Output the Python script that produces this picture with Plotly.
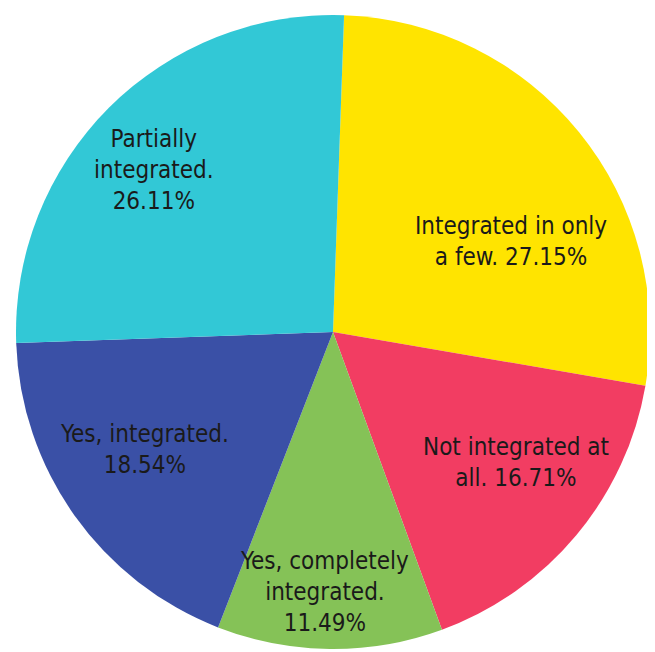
import math
import plotly.graph_objects as go

labels = ["Integrated in only a few.", "Not integrated at all.", "Yes, completely integrated.",
          "Yes, integrated.", "Partially integrated."]
values = [27.15, 16.71, 11.49, 18.54, 26.11]
display_text = ["Integrated in only<br>a few. 27.15%", "Not integrated at<br>all. 16.71%",
                "Yes, completely<br>integrated.<br>11.49%", "Yes, integrated.<br>18.54%",
                "Partially<br>integrated.<br>26.11%"]
colors = ["#FFE400", "#F23D62", "#85C257", "#3A50A6", "#32C8D6"]

# label placement (style): angle nudge from slice middle (deg) and radius fraction
label_nudge = [12.1, -4.4, 1.4, 3.5, -2.9]
label_rfrac = [0.63, 0.71, 0.82, 0.70, 0.76]

W, H = 655, 652
OFF = 8  # default page body margin
cx, cy, r = 333 - OFF, 332 - OFF, 317
ROT = 2
FONT = "Liberation Sans Narrow, DejaVu Sans Condensed, sans-serif"

fig = go.Figure(go.Pie(
    labels=labels, values=values,
    sort=False, direction="clockwise", rotation=ROT,
    marker=dict(colors=colors, line=dict(width=0)),
    textinfo="none", hoverinfo="label+percent", showlegend=False,
    domain=dict(x=[(cx - r) / W, (cx + r) / W], y=[(H - cy - r) / H, (H - cy + r) / H]),
))

total = sum(values)
cum = 0.0
for v, txt, nd, rf in zip(values, display_text, label_nudge, label_rfrac):
    mid = ROT + 360.0 * (cum + v / 2) / total
    cum += v
    a = math.radians(mid + nd)
    px = cx + rf * r * math.sin(a)
    py = cy - rf * r * math.cos(a)
    fig.add_annotation(x=px / W, y=1 - py / H, xref="paper", yref="paper",
                       text=txt, showarrow=False, xanchor="center", yanchor="middle",
                       font=dict(family=FONT, size=24, color="#1a1a1a"))

fig.update_layout(width=W, height=H, margin=dict(l=0, r=0, t=0, b=0),
                  paper_bgcolor="white")
fig.write_html("out.html")
